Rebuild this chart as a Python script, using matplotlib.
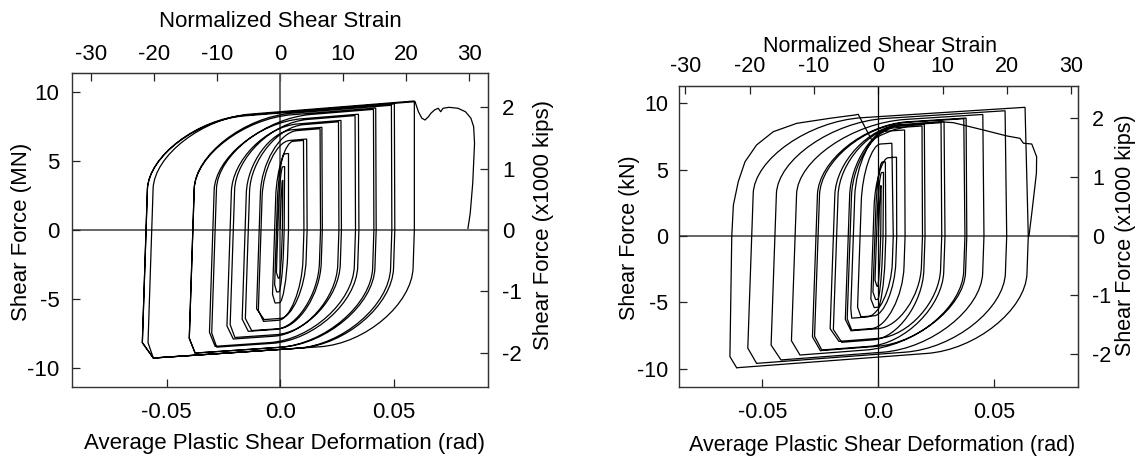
import numpy as np
import matplotlib.pyplot as plt
from matplotlib.path import Path
from matplotlib.patches import PathPatch

plt.rcParams['font.family'] = ['Liberation Sans', 'DejaVu Sans']
plt.rcParams['axes.unicode_minus'] = False

# ---- left specimen: reversal points (rad, MN) in load order ----
left_rev_x = [0.0, 0.0012, -0.0008, 0.0020, -0.0015, 0.0037, -0.0022, 0.0103, -0.0073,
              0.0117, -0.0070, 0.0176, -0.0140, 0.0184, -0.0125, 0.0257, -0.0206, 0.0268,
              -0.0199, 0.0330, -0.0286, 0.0345, -0.0279, 0.0411, -0.0374, 0.0421, -0.0374,
              0.0490, -0.0558, 0.0503, -0.0558, 0.0591, -0.0558, 0.0594]
left_rev_y = [0.0, 3.6, -3.5, 4.6, -4.5, 5.55, -5.3, 6.5, -6.63,
              6.6, -6.5, 7.35, -7.35, 7.45, -7.3, 7.85, -7.91, 7.95,
              -7.8, 8.3, -8.44, 8.4, -8.5, 8.75, -8.93, 8.85, -8.93,
              9.05, -9.29, 9.15, -9.29, 9.36, -9.29, 9.31]
# x where each branch (rev i -> rev i+1) crosses V = 0
left_cross_x = [0.0, 0.0010, -0.0010, 0.0018, -0.0016, 0.0037, -0.0024, 0.0105, -0.0084,
                0.0119, -0.0092, 0.0178, -0.0154, 0.0186, -0.0140, 0.0259, -0.0220, 0.0270,
                -0.0206, 0.0332, -0.0296, 0.0347, -0.0286, 0.0413, -0.0384, 0.0423, -0.0384,
                0.0492, -0.0590, 0.0505, -0.0565, 0.0591, -0.0590]
# last excursion past the peak (strength loss)
left_fail_x = [0.0594, 0.0609, 0.0624, 0.0638, 0.0653, 0.0664, 0.0680, 0.0696, 0.0707, 0.0717,
               0.0744, 0.0783, 0.0816, 0.0840, 0.0852, 0.0856, 0.0848, 0.0837, 0.0827]
left_fail_y = [9.31, 8.58, 8.11, 7.98, 8.22, 8.47, 8.71, 8.83, 8.58, 8.83,
               8.90, 8.83, 8.58, 8.11, 7.50, 6.29, 3.39, 1.21, 0.12]

# ---- right specimen ----
right_rev_x = [0.0, 0.0012, -0.0006, 0.0022, -0.0012, 0.0030, -0.0018, 0.0078, -0.0075,
               0.0058, -0.0115, 0.0113, -0.0115, 0.0188, -0.0118, 0.0198, -0.0158, 0.0270,
               -0.0170, 0.0283, -0.0244, 0.0368, -0.0250, 0.0378, -0.0338, 0.0450, -0.0420,
               0.0546, -0.0525, 0.0632, -0.0611]
right_rev_y = [0.0, 3.8, -3.8, 4.8, -4.8, 5.6, -5.4, 5.95, -6.1,
               7.0, -6.2, 8.0, -7.1, 8.3, -7.15, 8.42, -8.02, 8.55,
               -7.95, 8.62, -8.6, 8.85, -8.65, 8.9, -8.98, 9.17, -9.35,
               9.45, -9.61, 9.71, -9.94]
right_cross_x = [0.0, 0.0010, -0.0008, 0.0020, -0.0015, 0.0032, -0.0023, 0.0079, -0.0079,
                 0.0064, -0.0108, 0.0115, -0.0122, 0.0190, -0.0130, 0.0201, -0.0180, 0.0273,
                 -0.0194, 0.0287, -0.0260, 0.0373, -0.0269, 0.0381, -0.0359, 0.0455, -0.0446,
                 0.0553, -0.0546, 0.0646]
right_fail_x = [-0.0611, -0.0640, -0.0632, -0.0625, -0.0604, -0.0575, -0.0525, -0.0453, -0.0352,
                -0.0209, -0.0101, -0.0087, -0.0029, 0.0010, 0.0064, 0.0179, 0.0266, 0.0323,
                0.0452, 0.0553, 0.0610, 0.0625, 0.0661, 0.0682, 0.0681, 0.0661, 0.0649]
right_fail_y = [-9.94, -9.10, 0.0, 2.34, 4.10, 5.60, 6.87, 7.87, 8.50,
                8.88, 9.13, 9.18, 7.25, 7.60, 8.00, 8.50, 8.62, 8.55,
                8.00, 7.55, 7.37, 7.00, 6.94, 5.98, 4.73, 1.71, 0.0]

top_ticks = [-30, -20, -10, 0, 10, 20, 30]
bottom_ticks = [-0.05, 0.0, 0.05]
bottom_labels = ['-0.05', '0.0', '0.05']
left_ticks = [-10, -5, 0, 5, 10]
right_ticks = [-2, -1, 0, 1, 2]

STRAIN_PER_RAD = 360.6     # normalized shear strain per rad
MN_PER_KKIP = 4.448        # MN per 1000 kips
TILT = 0.0002              # lean of the elastic branches (rad per MN)


def hysteresis_path(rx, ry, cx, k_up, k_dn, knee):
    # knee = ((vertical share, knee length) going up, (same) going down)
    verts = [(rx[0], ry[0])]
    codes = [Path.MOVETO]
    for i in range(len(cx)):
        xa, ya, xb, yb, x0 = rx[i], ry[i], rx[i + 1], ry[i + 1], cx[i]
        up = yb > ya
        k = k_up if up else k_dn
        fv, klen = knee[0] if up else knee[1]
        cy = yb - k * (xb - x0)
        corner = np.array([x0 + TILT * cy, cy])
        if up and ya < 0:
            verts.append((x0 + TILT * 0.88 * ya, 0.88 * ya))
            codes.append(Path.LINETO)
        verts.append((x0, 0.0))
        codes.append(Path.LINETO)
        sy = (1 - fv) * cy
        start = np.array([x0 + TILT * sy, sy])
        span = abs(xb - corner[0]) + 1e-9
        f = min(klen / span, 0.6)
        end = corner + f * (np.array([xb, yb]) - corner)
        c1 = start + 0.5 * (corner - start)
        c2 = end + 0.5 * (corner - end)
        verts += [tuple(start), tuple(c1), tuple(c2), tuple(end), (xb, yb)]
        codes += [Path.LINETO, Path.CURVE4, Path.CURVE4, Path.CURVE4, Path.LINETO]
    return Path(verts, codes)


def style_panel(ax, fs, xl, yl, pads):
    ax.set_xlim(*xl)
    ax.set_ylim(*yl)
    ax.axhline(0, color='#5a5a5a', lw=1.3, zorder=1)
    ax.axvline(0, color='#5a5a5a', lw=1.3, zorder=1)
    ax.set_xticks(bottom_ticks, bottom_labels)
    ax.set_yticks(left_ticks)
    ax.tick_params(direction='in', length=5.5, width=0.9, labelsize=fs,
                   top=False, right=False, colors='#222222', labelcolor='black')
    ax.tick_params(axis='x', pad=pads[0])
    ax.tick_params(axis='y', pad=pads[1])
    for sp in ax.spines.values():
        sp.set_color('#333333')
        sp.set_linewidth(1.0)
    top = ax.secondary_xaxis('top', functions=(lambda g: g * STRAIN_PER_RAD,
                                               lambda s: s / STRAIN_PER_RAD))
    top.set_xticks(top_ticks)
    top.tick_params(direction='in', length=5.5, width=0.9, labelsize=fs, pad=pads[2],
                    colors='#222222', labelcolor='black')
    right = ax.secondary_yaxis('right', functions=(lambda v: v / MN_PER_KKIP,
                                                   lambda q: q * MN_PER_KKIP))
    right.set_yticks(right_ticks)
    right.tick_params(direction='in', length=5.5, width=0.9, labelsize=fs, pad=pads[3],
                      colors='#222222', labelcolor='black')
    for s in (top, right):
        for sp in s.spines.values():
            sp.set_color('#333333')


W, H = 1141, 457
fig = plt.figure(figsize=(W / 100, H / 100), dpi=100)

# left panel
ax1 = fig.add_axes([72 / W, 1 - 386.7 / H, 416.4 / W, 313.7 / H])
style_panel(ax1, 16, (-0.0916, 0.0917), (-11.37, 11.39), (11, 9, 6, 10))
p1 = hysteresis_path(left_rev_x, left_rev_y, left_cross_x, 13.0, 11.0,
                     ((0.62, 0.042), (0.66, 0.040)))
ax1.add_patch(PathPatch(p1, fill=False, ec='black', lw=0.9, zorder=3))
ax1.plot(left_fail_x, left_fail_y, color='black', lw=0.9, zorder=3)

fig.text(280 / W, 1 - 21.7 / H, 'Normalized Shear Strain', ha='center', va='center', fontsize=16)
fig.text(284.5 / W, 1 - 443 / H, 'Average Plastic Shear Deformation (rad)',
         ha='center', va='center', fontsize=16)
fig.text(22 / W, 1 - 231.7 / H, 'Shear Force (MN)', rotation=90,
         ha='center', va='center', fontsize=16)
fig.text(543.6 / W, 1 - 225 / H, 'Shear Force (x1000 kips)', rotation=90,
         ha='center', va='center', fontsize=16)

# right panel
ax2 = fig.add_axes([679.1 / W, 1 - 386.7 / H, 399.3 / W, 301 / H])
style_panel(ax2, 15.5, (-0.0859, 0.0862), (-11.37, 11.34), (11, 8, 6, 10))
ax2.lines[1].set_color('black')
ax2.lines[1].set_linewidth(0.9)
p2 = hysteresis_path(right_rev_x, right_rev_y, right_cross_x, 11.0, 13.0,
                     ((0.62, 0.046), (0.66, 0.042)))
ax2.add_patch(PathPatch(p2, fill=False, ec='black', lw=0.9, zorder=3))
ax2.plot(right_fail_x, right_fail_y, color='black', lw=0.9, zorder=3)

fig.text(880 / W, 1 - 46.7 / H, 'Normalized Shear Strain', ha='center', va='center', fontsize=15.5)
fig.text(881.8 / W, 1 - 445 / H, 'Average Plastic Shear Deformation (rad)',
         ha='center', va='center', fontsize=15.5)
fig.text(630 / W, 1 - 237.5 / H, 'Shear Force (kN)', rotation=90,
         ha='center', va='center', fontsize=15.5)
fig.text(1126 / W, 1 - 235 / H, 'Shear Force (x1000 kips)', rotation=90,
         ha='center', va='center', fontsize=15.5)

fig.savefig('out.png', dpi=100)
